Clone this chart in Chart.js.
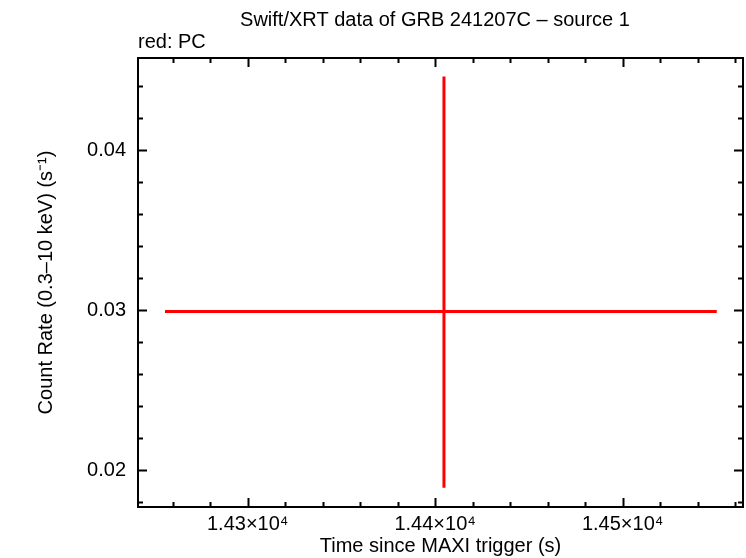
<!DOCTYPE html>
<html>
<head>
<meta charset="utf-8">
<script src="https://cdn.jsdelivr.net/npm/chart.js@4/dist/chart.umd.min.js"></script>
<style>
  html, body { margin: 0; padding: 0; background: #fff; }
  #wrap { width: 746px; height: 558px; }
</style>
</head>
<body>
<div id="wrap"><canvas id="lc"></canvas></div>
<script>
// light curve points (PC mode)
const times = [14404.7];
const timeErrNeg = [148.8];
const timeErrPos = [145.5];
const rates = [0.0299];
const rateErrNeg = [0.0110];
const rateErrPos = [0.0147];

// axis ranges and ticks
const xRange = [14241.5, 14564.2];
const yRange = [0.01769, 0.04575];
const xMajor = [14300, 14400, 14500];
const yMajor = [0.02, 0.03, 0.04];

const FONT = '"Liberation Sans", Arial, Helvetica, sans-serif';

document.addEventListener("DOMContentLoaded", function() {
  const points = times.map((t, i) => ({ x: t, y: rates[i] }));

  // error bars, drawn through the scales
  const errorBars = {
    id: 'errorBars',
    afterDatasetsDraw(chart) {
      const ctx = chart.ctx;
      const xs = chart.scales.x, ys = chart.scales.y;
      ctx.save();
      ctx.strokeStyle = '#ff0000';
      ctx.lineWidth = 3;
      ctx.lineCap = 'butt';
      times.forEach((t, i) => {
        const px = xs.getPixelForValue(t);
        const py = ys.getPixelForValue(rates[i]);
        ctx.beginPath();
        ctx.moveTo(xs.getPixelForValue(t - timeErrNeg[i]), py);
        ctx.lineTo(xs.getPixelForValue(t + timeErrPos[i]), py);
        ctx.moveTo(px, ys.getPixelForValue(rates[i] + rateErrPos[i]));
        ctx.lineTo(px, ys.getPixelForValue(rates[i] - rateErrNeg[i]));
        ctx.stroke();
      });
      ctx.restore();
    }
  };

  // box frame with inward ticks on all sides + header text
  const frame = {
    id: 'frame',
    afterDraw(chart) {
      const ctx = chart.ctx;
      const a = chart.chartArea;
      const xs = chart.scales.x, ys = chart.scales.y;
      ctx.save();
      ctx.strokeStyle = '#000';
      ctx.lineWidth = 2;
      ctx.strokeRect(a.left, a.top, a.right - a.left, a.bottom - a.top);

      ctx.beginPath();
      for (let v = 14260; v <= 14560; v += 20) {
        const len = (v % 100 === 0) ? 9 : 5;
        const px = Math.round(xs.getPixelForValue(v)) + 0.5;
        ctx.moveTo(px, a.bottom); ctx.lineTo(px, a.bottom - len);
        ctx.moveTo(px, a.top); ctx.lineTo(px, a.top + len);
      }
      for (let k = 18; k <= 44; k += 2) {
        const v = k / 1000;
        const len = (k % 10 === 0) ? 9 : 5;
        const py = Math.round(ys.getPixelForValue(v)) + 0.5;
        ctx.moveTo(a.left, py); ctx.lineTo(a.left + len, py);
        ctx.moveTo(a.right, py); ctx.lineTo(a.right - len, py);
      }
      ctx.stroke();

      ctx.fillStyle = '#000';
      ctx.font = '20px ' + FONT;
      ctx.textBaseline = 'middle';
      ctx.textAlign = 'center';
      ctx.fillText('Swift/XRT data of GRB 241207C \u2013 source 1', 435, 20);
      ctx.textAlign = 'left';
      ctx.fillText('red: PC', 138, 42);
      ctx.restore();
    }
  };

  const noGrid = { drawOnChartArea: false, drawTicks: false, color: 'rgba(0,0,0,0)' };

  new Chart(document.getElementById('lc'), {
    type: 'scatter',
    data: {
      datasets: [{
        label: 'PC',
        data: points,
        pointRadius: 0,
        pointHoverRadius: 0,
        showLine: false
      }]
    },
    options: {
      responsive: true,
      maintainAspectRatio: false,
      animation: false,
      events: [],
      layout: { padding: { left: 0, right: 3, top: 58, bottom: 0 } },
      plugins: {
        legend: { display: false },
        tooltip: { enabled: false }
      },
      scales: {
        x: {
          type: 'linear',
          min: xRange[0],
          max: xRange[1],
          grid: noGrid,
          border: { display: false },
          afterBuildTicks: (s) => { s.ticks = xMajor.map(v => ({ value: v })); },
          afterFit: (s) => { s.height = 51; },
          ticks: {
            padding: 5,
            color: '#000',
            font: { family: FONT, size: 20 },
            maxRotation: 0,
            callback: (v) => (v / 10000).toFixed(2) + '\u00d710\u2074'
          },
          title: {
            display: true,
            text: 'Time since MAXI trigger (s)',
            color: '#000',
            font: { family: FONT, size: 20 },
            padding: { top: 0, bottom: 0 }
          }
        },
        y: {
          type: 'linear',
          min: yRange[0],
          max: yRange[1],
          grid: noGrid,
          border: { display: false },
          afterBuildTicks: (s) => { s.ticks = yMajor.map(v => ({ value: v })); },
          afterFit: (s) => { s.width = 138; },
          ticks: {
            padding: 12,
            color: '#000',
            font: { family: FONT, size: 20 },
            callback: (v) => v.toFixed(2)
          },
          title: {
            display: true,
            text: 'Count Rate (0.3\u201310 keV) (s\u207b\u00b9)',
            color: '#000',
            font: { family: FONT, size: 20 },
            padding: { top: 34, bottom: 0 }
          }
        }
      }
    },
    plugins: [errorBars, frame]
  });
});
</script>
</body>
</html>
